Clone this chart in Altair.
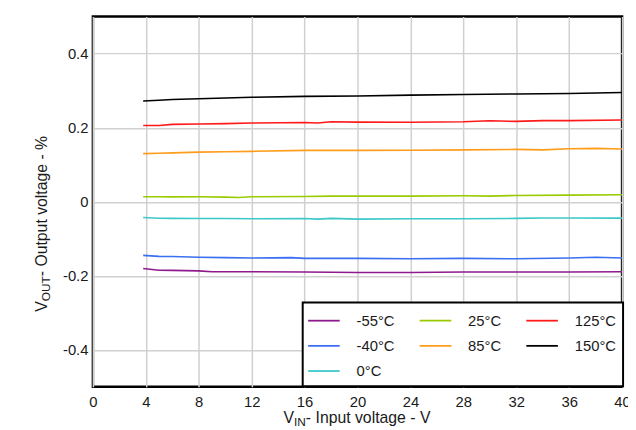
import altair as alt
import pandas as pd

# ---------------- data ----------------
series_names = ["-55°C", "-40°C", "0°C", "25°C", "85°C", "125°C", "150°C"]
series_colors = ["#8E1A8E", "#3A6FF2", "#3CC8C8", "#99CC00", "#FF9C1A", "#FF1A1A", "#000000"]

vin_m55 = [3.8, 5, 6, 8, 9, 12, 16, 20, 24, 28, 32, 36, 40]
vout_m55 = [-0.1804, -0.1849, -0.1855, -0.1867, -0.1893, -0.1893, -0.1900, -0.1910, -0.1910, -0.1900, -0.1900, -0.1900, -0.1893]

vin_m40 = [3.8, 5, 6, 8, 10, 12, 15, 16, 20, 24, 28, 32, 36, 38, 40]
vout_m40 = [-0.1449, -0.1476, -0.1480, -0.1500, -0.1510, -0.1520, -0.1511, -0.1530, -0.1530, -0.1540, -0.1530, -0.1540, -0.1520, -0.1500, -0.1520]

vin_0 = [3.8, 5, 6, 8, 10, 12, 16, 17, 18, 20, 24, 28, 32, 34, 36, 40]
vout_0 = [-0.0427, -0.0445, -0.0450, -0.0453, -0.0455, -0.0460, -0.0453, -0.0470, -0.0450, -0.0470, -0.0460, -0.0460, -0.0450, -0.0440, -0.0440, -0.0444]

vin_25 = [3.8, 5, 6, 8, 10, 11, 12, 16, 18, 20, 24, 28, 30, 32, 36, 40]
vout_25 = [0.0133, 0.0133, 0.0130, 0.0133, 0.0125, 0.0115, 0.0133, 0.0142, 0.0150, 0.0150, 0.0150, 0.0160, 0.0150, 0.0170, 0.0178, 0.0187]

vin_85 = [3.8, 5, 6, 8, 10, 12, 16, 20, 24, 28, 32, 34, 36, 38, 40]
vout_85 = [0.1300, 0.1310, 0.1320, 0.1340, 0.1350, 0.1360, 0.1387, 0.1387, 0.1390, 0.1400, 0.1413, 0.1400, 0.1430, 0.1440, 0.1422]

vin_125 = [3.8, 5, 6, 8, 10, 12, 16, 17, 18, 20, 24, 28, 30, 32, 34, 36, 40]
vout_125 = [0.2060, 0.2060, 0.2090, 0.2100, 0.2110, 0.2125, 0.2140, 0.2125, 0.2160, 0.2150, 0.2147, 0.2160, 0.2187, 0.2170, 0.2190, 0.2190, 0.2205]

vin_150 = [3.8, 5, 6, 8, 10, 12, 16, 20, 24, 28, 32, 36, 40]
vout_150 = [0.2720, 0.2740, 0.2760, 0.2780, 0.2800, 0.2820, 0.2845, 0.2855, 0.2880, 0.2895, 0.2910, 0.2925, 0.2950]

x_ticks = [0, 4, 8, 12, 16, 20, 24, 28, 32, 36, 40]
y_ticks = [-0.4, -0.2, 0, 0.2, 0.4]

# legend entries in reading order (3 columns, row by row) as in the reference
legend_order = ["-55°C", "25°C", "125°C", "-40°C", "85°C", "150°C", "0°C"]

# ---------------- build tables ----------------
all_x = [vin_m55, vin_m40, vin_0, vin_25, vin_85, vin_125, vin_150]
all_y = [vout_m55, vout_m40, vout_0, vout_25, vout_85, vout_125, vout_150]
rows = []
for name, xs, ys in zip(series_names, all_x, all_y):
    for i, (xv, yv) in enumerate(zip(xs, ys)):
        rows.append({"Temp": name, "Vin": xv, "Vout": yv, "idx": i})
df = pd.DataFrame(rows)

# legend layout (pixel layout of the boxed legend)
LEG_LEFT, LEG_TOP, LEG_RIGHT, LEG_BOTTOM = 212.5, 289.5, 537.0, 374.3
col_sym_x = [218, 331, 439]
row_y = [308, 333.5, 359]
SYM_LEN, LAB_GAP = 32, 17
leg_rows = []
for i, name in enumerate(legend_order):
    c, r = i % 3, i // 3
    leg_rows.append({"Temp": name, "sx": col_sym_x[c], "sx2": col_sym_x[c] + SYM_LEN,
                     "lx": col_sym_x[c] + SYM_LEN + LAB_GAP, "ly": row_y[r]})
leg_df = pd.DataFrame(leg_rows)

FONT = "Liberation Sans"
TXT = "#1a1a1a"

color_scale = alt.Scale(domain=series_names, range=series_colors)

y_label_expr = ("datum.value == 0 ? '0' : (datum.value < 0 ? '-' + format(-datum.value, '.1f') "
                ": format(datum.value, '.1f'))")

lines = alt.Chart(df).mark_line(strokeWidth=1.6, clip=True).encode(
    x=alt.X("Vin:Q", scale=alt.Scale(domain=[0, 40], nice=False, zero=False),
            axis=alt.Axis(values=x_ticks, title=None, grid=True, ticks=False, domain=False,
                          labelFontSize=15, labelPadding=8, labelFlush=False,
                          labelColor=TXT, labelFont=FONT, format="d")),
    y=alt.Y("Vout:Q", scale=alt.Scale(domain=[-0.5, 0.5], nice=False, zero=False),
            axis=alt.Axis(values=y_ticks, title=None, grid=True, ticks=False, domain=False,
                          labelFontSize=15, labelPadding=5, labelColor=TXT, labelFont=FONT,
                          labelExpr=y_label_expr)),
    color=alt.Color("Temp:N", scale=color_scale, legend=None),
    detail="Temp:N",
    order="idx:Q",
)

leg_box = alt.Chart(pd.DataFrame({"b": [0]})).mark_rect(
    fill="white", stroke="black", strokeWidth=2
).encode(x=alt.value(LEG_LEFT), x2=alt.value(LEG_RIGHT),
         y=alt.value(LEG_TOP), y2=alt.value(LEG_BOTTOM))

leg_sym = alt.Chart(leg_df).mark_rule(strokeWidth=1.8).encode(
    x=alt.X("sx:Q", scale=None), x2="sx2:Q",
    y=alt.Y("ly:Q", scale=None),
    color=alt.Color("Temp:N", scale=color_scale, legend=None),
)

leg_txt = alt.Chart(leg_df).mark_text(
    font=FONT, fontSize=15, color=TXT, align="left", baseline="middle"
).encode(
    x=alt.X("lx:Q", scale=None), y=alt.Y("ly:Q", scale=None), text="Temp:N"
)

def label(text, x, y, size=16, angle=0):
    return alt.Chart(pd.DataFrame({"t": [text]})).mark_text(
        text=text, font=FONT, fontSize=size, color=TXT, align="left",
        baseline="alphabetic", angle=angle
    ).encode(x=alt.value(x), y=alt.value(y))

# x axis title with subscript
xt1 = label("V", 193, 412)
xt2 = label("IN", 203.7, 415, size=12)
xt3 = label("- Input voltage - V", 215.7, 412)
# y axis title with subscript (rotated)
yt1 = label("V", -46, 299, angle=270)
yt2 = label("OUT", -43, 288.3, size=12, angle=270)
yt3 = label("- Output voltage - %", -46, 263, angle=270)

chart = alt.layer(lines, leg_box, leg_sym, leg_txt, xt1, xt2, xt3, yt1, yt2, yt3).properties(
    width=536, height=375,
    autosize=alt.AutoSizeParams(type="none"),
    padding={"left": 86, "top": 6, "right": 6, "bottom": 40},
).resolve_scale(x="independent", y="independent").configure(font=FONT).configure_view(
    stroke="black", strokeWidth=2.5
).configure_axis(
    gridColor="#d0d0d0", gridWidth=1.5
)

chart.save("out.html", embed_options={"renderer": "svg", "actions": False})
